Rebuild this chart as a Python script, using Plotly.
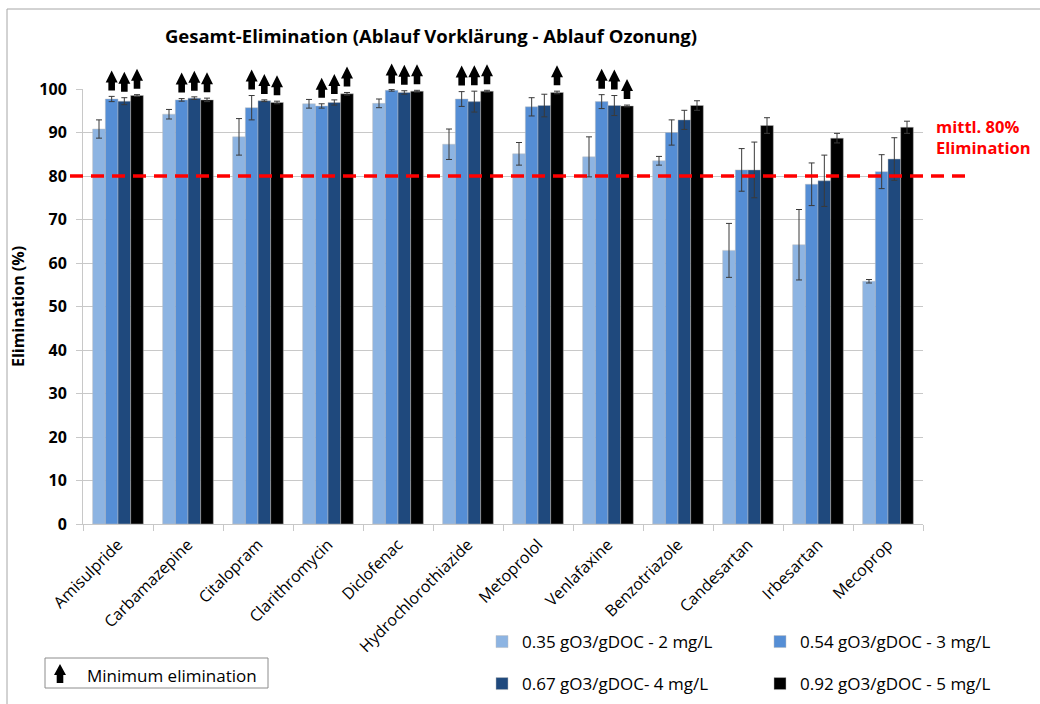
import plotly.graph_objects as go

# ---- data -------------------------------------------------------------
compounds = ["Amisulpride", "Carbamazepine", "Citalopram", "Clarithromycin",
             "Diclofenac", "Hydrochlorothiazide", "Metoprolol", "Venlafaxine",
             "Benzotriazole", "Candesartan", "Irbesartan", "Mecoprop"]

series_names = ["0.35 gO3/gDOC - 2 mg/L", "0.54 gO3/gDOC - 3 mg/L",
                "0.67 gO3/gDOC- 4 mg/L", "0.92 gO3/gDOC - 5 mg/L"]

elim_035 = [90.8, 94.2, 89.0, 96.6, 96.7, 87.3, 85.1, 84.4, 83.5, 62.9, 64.2, 55.8]
err_035 = [2.1, 1.1, 4.2, 1.0, 1.0, 3.5, 2.6, 4.6, 1.0, 6.2, 8.1, 0.4]

elim_054 = [97.7, 97.5, 95.7, 96.1, 99.7, 97.7, 95.9, 97.1, 90.0, 81.4, 78.1, 81.0]
err_054 = [0.6, 0.3, 2.8, 0.5, 0.2, 1.7, 2.1, 1.6, 2.9, 4.9, 4.9, 3.9]

elim_067 = [97.2, 97.9, 97.3, 96.9, 99.2, 97.1, 96.2, 96.2, 92.9, 81.4, 78.9, 83.9]
err_067 = [0.8, 0.3, 0.2, 0.6, 0.4, 2.4, 2.6, 2.3, 2.2, 6.4, 5.9, 4.9]

elim_092 = [98.5, 97.5, 96.9, 98.9, 99.5, 99.5, 99.2, 96.1, 96.2, 91.6, 88.7, 91.2]
err_092 = [0.2, 0.4, 0.3, 0.3, 0.2, 0.2, 0.3, 0.2, 1.1, 1.8, 1.1, 1.4]

# minimum-elimination flags (value is a lower bound)
min_035 = [False] * 12
min_054 = [True, True, True, True, True, True, False, True, False, False, False, False]
min_067 = [True, True, True, True, True, True, False, True, False, False, False, False]
min_092 = [True, True, True, True, True, True, True, True, False, False, False, False]

mean_elimination = 80

# ---- styling ------------------------------------------------------------
colors = ["#8DB4E2", "#558ED5", "#1F497D", "#000000"]
FONT = "Open Sans"
GRID = "#c8c8c8"
BARGAP = 0.276
X_MIN, X_MAX = -0.5, len(compounds) - 0.5
Y_MAX = 100

values = [elim_035, elim_054, elim_067, elim_092]
errors = [err_035, err_054, err_067, err_092]
flags = [min_035, min_054, min_067, min_092]
legend_ids = ["legend", "legend", "legend2", "legend2"]

xs = list(range(len(compounds)))

fig = go.Figure()
for k in range(4):
    fig.add_trace(go.Bar(
        x=xs, y=values[k], name=series_names[k],
        marker=dict(color=colors[k], line=dict(color="rgba(190,190,190,0.8)", width=0.6)),
        error_y=dict(type="data", array=errors[k], color="#3a3a3a", thickness=1, width=3),
        legend=legend_ids[k],
    ))


def x_paper(x):
    return (x - X_MIN) / (X_MAX - X_MIN)


def y_paper(v):
    return v / Y_MAX


# block arrow (pixel path, relative to its anchor)
ARROW = "M-3.3,6 L3.3,6 L3.3,14 L6,14 L0,26 L-6,14 L-3.3,14 Z"
ARROW_LEGEND = "M-3.3,0 L3.3,0 L3.3,8 L6,8 L0,19 L-6,8 L-3.3,8 Z"

shapes = []
width_per_bar = (1 - BARGAP) / 4
for k in range(4):
    offset = -(1 - BARGAP) / 2 + (k + 0.5) * width_per_bar
    for i, flag in enumerate(flags[k]):
        if not flag:
            continue
        shapes.append(dict(
            type="path", xref="paper", yref="paper",
            xsizemode="pixel", ysizemode="pixel",
            xanchor=x_paper(i + offset), yanchor=y_paper(values[k][i] + errors[k][i]),
            path=ARROW, fillcolor="black", line=dict(width=0),
        ))

# plot geometry in pixels
L, R, T, B = 83, 117, 89, 180
W, H = 1040, 704
PW, PH = W - L - R, H - T - B


def px_x(p):
    return (p - L) / PW


def px_y(p):
    return (H - B - p) / PH


# mean elimination line
shapes.append(dict(type="line", xref="paper", yref="paper",
                   x0=px_x(70), x1=px_x(968),
                   y0=y_paper(mean_elimination), y1=y_paper(mean_elimination),
                   line=dict(color="#ff0000", width=3.5, dash="13px,8px")))

# outer chart border
shapes.append(dict(type="rect", xref="paper", yref="paper",
                   x0=px_x(7), x1=px_x(1046), y0=px_y(9), y1=px_y(712),
                   line=dict(color="#a6a6a6", width=1), fillcolor="rgba(0,0,0,0)"))

# "minimum elimination" key box
shapes.append(dict(type="rect", xref="paper", yref="paper",
                   x0=px_x(45), x1=px_x(268), y0=px_y(658), y1=px_y(688),
                   line=dict(color="#8c8c8c", width=1), fillcolor="white"))
shapes.append(dict(type="path", xref="paper", yref="paper",
                   xsizemode="pixel", ysizemode="pixel",
                   xanchor=px_x(60), yanchor=px_y(683),
                   path=ARROW_LEGEND, fillcolor="black", line=dict(width=0)))

annotations = [
    dict(text="Minimum elimination", xref="paper", yref="paper",
         x=px_x(85), y=px_y(675), xanchor="left", yanchor="middle",
         showarrow=False, font=dict(family=FONT, size=17, color="black")),
    dict(text="mittl. 80%<br>Elimination", xref="paper", yref="paper",
         x=px_x(934), y=px_y(137), xanchor="left", yanchor="middle", align="left",
         showarrow=False, font=dict(family=FONT, size=16.5, color="#ff0000", weight="bold")),
]

fig.update_layout(
    width=W, height=H, autosize=False,
    margin=dict(l=L, r=R, t=T, b=B, autoexpand=False),
    paper_bgcolor="white", plot_bgcolor="white",
    barmode="group", bargap=BARGAP, bargroupgap=0,
    font=dict(family=FONT, color="black"),
    title=dict(text="Gesamt-Elimination (Ablauf Vorklärung - Ablauf Ozonung)",
               x=431 / W, xanchor="center", y=1 - 37 / H, yanchor="middle",
               font=dict(family=FONT, size=18.5, color="black", weight="bold")),
    xaxis=dict(range=[X_MIN, X_MAX], tickmode="array", tickvals=xs, ticktext=compounds,
               tickangle=-45, ticks="", showgrid=False, zeroline=False,
               showline=True, linecolor=GRID, linewidth=1, ticklabelstandoff=4,
               tickfont=dict(family=FONT, size=16, color="black"),
               minor=dict(tick0=-0.5, dtick=1, ticks="outside", ticklen=6,
                          tickcolor=GRID, showgrid=False)),
    yaxis=dict(range=[0, Y_MAX], dtick=10, showgrid=True, gridcolor=GRID, gridwidth=1,
               zeroline=False, showline=True, linecolor=GRID, linewidth=1,
               ticks="outside", ticklen=6, tickcolor=GRID, ticklabelstandoff=6,
               tickfont=dict(family=FONT, size=16, color="black", weight="bold"),
               title=dict(text="Elimination (%)", standoff=10,
                          font=dict(family=FONT, size=16, color="black", weight="bold"))),
    legend=dict(orientation="h", x=px_x(482), y=px_y(642), xanchor="left", yanchor="middle",
                entrywidth=233, entrywidthmode="pixels", traceorder="normal",
                font=dict(family=FONT, size=17, color="black"), bgcolor="rgba(0,0,0,0)"),
    legend2=dict(orientation="h", x=px_x(482), y=px_y(684), xanchor="left", yanchor="middle",
                 entrywidth=233, entrywidthmode="pixels", traceorder="normal",
                 font=dict(family=FONT, size=17, color="black"), bgcolor="rgba(0,0,0,0)"),
    shapes=shapes,
    annotations=annotations,
)

fig.write_html("out.html")
